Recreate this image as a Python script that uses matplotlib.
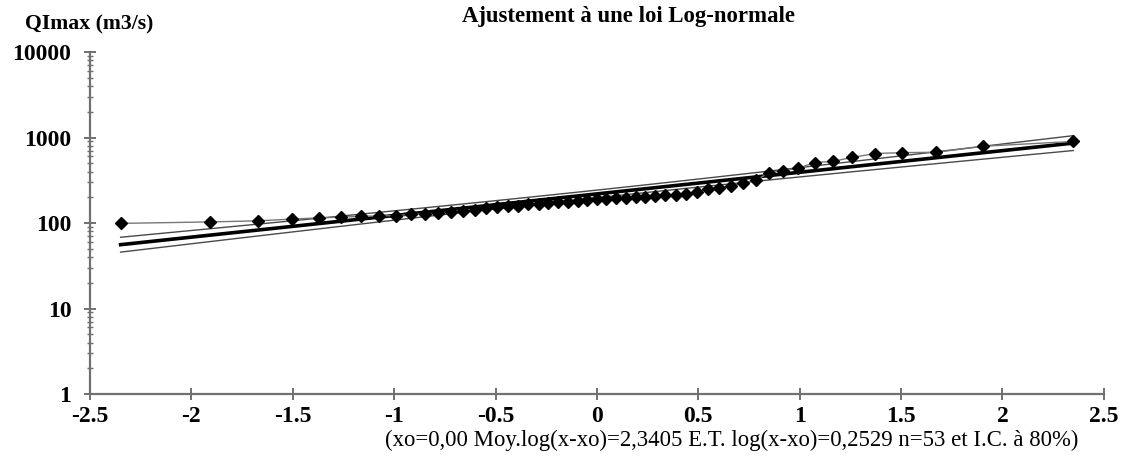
import numpy as np
import matplotlib
matplotlib.use("Agg")
import matplotlib.pyplot as plt
from matplotlib.ticker import FixedLocator, FixedFormatter, LogLocator, NullFormatter

# Reduced normal variable (Hazen plotting positions, n = 53)
u_half = [0.047, 0.095, 0.143, 0.191, 0.239, 0.288, 0.338, 0.388, 0.440,
          0.492, 0.546, 0.602, 0.660, 0.720, 0.782, 0.848, 0.918, 0.993,
          1.073, 1.162, 1.260, 1.372, 1.505, 1.673, 1.906, 2.349]
reduced = [-v for v in reversed(u_half)] + [0.0] + u_half

# Observed annual maximum discharges, sorted (m3/s)
qimax = [99, 103, 106, 111, 115, 117, 120, 121, 122, 126,
         128, 131, 134, 138, 143, 148, 152, 156, 160, 165,
         168, 171, 175, 178, 182, 186, 190, 193, 196, 198,
         200, 203, 208, 212, 215, 218, 232, 248, 260, 272,
         295, 315, 385, 410, 435, 510, 525, 585, 650, 665,
         672, 790, 900]

# Fitted log-normal parameters
xo = 0.0
mean_log = 2.3405
std_log = 0.2529
n_obs = 53
conf_level = 80
u_conf = 1.2816  # normal quantile for a two-sided 80 % interval

x_ticks = [-2.5, -2, -1.5, -1, -0.5, 0, 0.5, 1, 1.5, 2, 2.5]
x_tick_labels = ["-2.5", "-2", "-1.5", "-1", "-0.5", "0", "0.5", "1", "1.5", "2", "2.5"]
y_ticks = [1, 10, 100, 1000, 10000]
y_tick_labels = ["1", "10", "100", "1000", "10000"]


def fr(value, decimals):
    """Format a number with a French decimal comma."""
    return f"{value:.{decimals}f}".replace(".", ",")


plt.rcParams["font.family"] = ["Liberation Serif", "DejaVu Serif"]
plt.rcParams["axes.unicode_minus"] = False

fig = plt.figure(figsize=(11.31, 4.59), dpi=100)
ax = fig.add_axes([0.0796, 0.1416, 0.8964, 0.7451])

u = np.array(reduced)
fit_log = mean_log + std_log * u
half_width = u_conf * std_log * np.sqrt(1.0 / n_obs + u ** 2 / (2.0 * (n_obs - 1)))

ax.plot(u, 10 ** (fit_log + half_width) + xo, color="#4a4a4a", lw=1.0, zorder=2)
ax.plot(u, 10 ** (fit_log - half_width) + xo, color="#4a4a4a", lw=1.0, zorder=2)
ax.plot(u, 10 ** fit_log + xo, color="black", lw=2.6, zorder=3)
ax.plot(reduced, qimax, color="#777777", lw=1.0, marker="D", ms=6.5,
        mfc="black", mec="black", zorder=4)

ax.set_yscale("log")
ax.set_xlim(-2.5, 2.5)
ax.set_ylim(1, 10000)

ax.xaxis.set_major_locator(FixedLocator(x_ticks))
ax.xaxis.set_major_formatter(FixedFormatter(x_tick_labels))
ax.yaxis.set_major_locator(FixedLocator(y_ticks))
ax.yaxis.set_major_formatter(FixedFormatter(y_tick_labels))
ax.yaxis.set_minor_locator(LogLocator(base=10, subs=np.arange(2, 10)))
ax.yaxis.set_minor_formatter(NullFormatter())

for side in ("top", "right"):
    ax.spines[side].set_visible(False)
for side in ("left", "bottom"):
    ax.spines[side].set_color("#707070")
    ax.spines[side].set_linewidth(1.6)

ax.tick_params(axis="both", which="major", direction="inout", length=9,
               width=1.4, color="#707070", labelsize=17)
ax.tick_params(axis="y", which="minor", direction="inout", length=5,
               width=1.0, color="#707070")
ax.tick_params(axis="y", which="major", pad=9)
ax.tick_params(axis="x", which="major", pad=4)
for lab in ax.get_xticklabels() + ax.get_yticklabels():
    lab.set_fontweight("bold")

fig.text(0.556, 0.963, "Ajustement à une loi Log-normale", ha="center",
         va="center", fontsize=16.4, fontweight="bold")
fig.text(0.022, 0.946, "QImax (m3/s)", ha="left", va="center",
         fontsize=15.7, fontweight="bold")
annotation = (f"(xo={fr(xo, 2)} Moy.log(x-xo)={fr(mean_log, 4)} "
              f"E.T. log(x-xo)={fr(std_log, 4)} n={n_obs} et I.C. à {conf_level}%)")
fig.text(0.647, 0.040, annotation, ha="center", va="center", fontsize=16.4)

fig.savefig("out.png", dpi=100)
